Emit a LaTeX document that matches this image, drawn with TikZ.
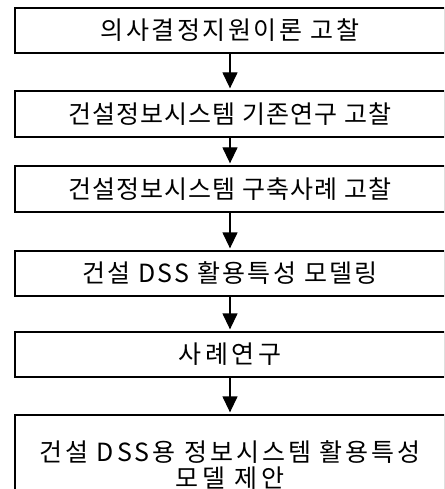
\documentclass[tikz,border=0pt]{standalone}
\usepackage{fontspec}
\setmainfont{Noto Sans CJK KR}
\usetikzlibrary{arrows.meta}
\begin{document}
\begin{tikzpicture}[x=1pt,y=-1pt,
  box/.style={draw, line width=1.3pt, minimum width=430pt, minimum height=45pt,
    inner sep=0pt, align=center, font=\fontsize{25}{26}\selectfont},
  conn/.style={line width=1.3pt, shorten >=2pt, -{Triangle[width=15pt,length=16pt]}}]
\useasboundingbox (0,0) rectangle (444,489);
\clip (0,0) rectangle (444,489);
\node[box] (b1) at (230,30.5) {\addfontfeatures{LetterSpace=10}의사결정지원이론 고찰};
\node[box, minimum height=46pt] (b2) at (230,114) {\addfontfeatures{LetterSpace=4}건설정보시스템 기존연구 고찰};
\node[box, minimum height=46pt] (b3) at (230,189) {\addfontfeatures{LetterSpace=4}건설정보시스템 구축사례 고찰};
\node[box] (b4) at (230,273.5) {\addfontfeatures{LetterSpace=9}건설 DSS 활용특성 모델링};
\node[box] (b5) at (230,354.5) {\addfontfeatures{LetterSpace=15}사례연구};
\node[box, minimum height=100pt] (b6) at (230,465) {\addfontfeatures{LetterSpace=12}건설 DSS용 정보시스템 활용특성\\\addfontfeatures{LetterSpace=16}모델 제안};
\draw[conn] (b1.south) -- (b2.north);
\draw[conn] (b2.south) -- (b3.north);
\draw[conn] (b3.south) -- (b4.north);
\draw[conn] (b4.south) -- (b5.north);
\draw[conn] (b5.south) -- (b6.north);
\end{tikzpicture}
\end{document}
